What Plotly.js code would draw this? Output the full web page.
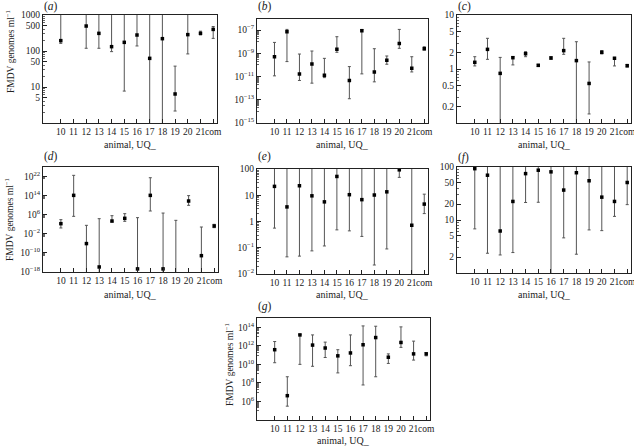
<!DOCTYPE html>
<html><head><meta charset="utf-8">
<script src="https://cdn.plot.ly/plotly-3.0.1.min.js"></script>
<style>html,body{margin:0;padding:0;background:#fff}#chart{width:634px;height:446px}</style>
</head><body><div id="chart"></div>
<script>
const cats = ['10','11','12','13','14','15','16','17','18','19','20','21','com'];

// (a)
const aMid = [194, null, 494, 309, 132, 174, 278, 62.5, 220, 6.4, 285, 309, 398];
const aHi  = [1e4, null, 1e4, 1e4, 1e4, 1e4, 1e4, 1e4, 1e4, 38, 1e4, 355, 479];
const aLo  = [163, null, 119, 119, 96, 7.7, 138, 0, 0, 2.15, 83, 282, 224];
const aTickVals = [5, 10, 50, 100, 500, 1000];
const aTickText = ['5', '10', '50', '100', '500', '1000'];

// (b)
const bMid = [5.1e-10, 7.2e-8, 1.7e-11, 1.23e-10, 1.29e-11, 2.3e-9, 4.6e-12, 8.7e-8, 2.5e-11, 2.5e-10, 7.2e-9, 5.1e-11, 2.5e-9];
const bHi  = [8.7e-9, 1.15e-7, 8.7e-10, 1.58e-9, 3.7e-10, 2.7e-8, 7.2e-11, 1.15e-7, 2.5e-9, 5.9e-10, 1.15e-7, 5.1e-10, 3.7e-9];
const bLo  = [1.15e-11, 1.95e-10, 4.6e-12, 2.7e-12, 8.1e-12, 1.23e-9, 1.23e-13, 1.7e-11, 3.5e-12, 1.15e-10, 2.7e-9, 2.5e-11, 1.95e-9];
const bTickVals = [1e-15, 1e-13, 1e-11, 1e-9, 1e-7];
const bTickText = ['10<sup>\u221215</sup>', '10<sup>\u221213</sup>', '10<sup>\u221211</sup>', '10<sup>\u22129</sup>', '10<sup>\u22127</sup>'];

// (c)
const cMid = [1.33, 2.31, 0.83, 1.62, 1.92, 1.17, 1.6, 2.19, 1.43, 0.54, 2.04, 1.58, 1.15];
const cHi  = [1.69, 3.7, 1.64, 1.69, 2.09, 1.22, 1.69, 3.7, 3.2, 1.35, 2.19, 1.64, 1.22];
const cLo  = [1.14, 1.51, 0, 1.19, 1.69, 1.11, 1.51, 1.87, 0, 0.147, 1.9, 1.14, 1.09];
const cTickVals = [0.2, 0.5, 1, 2, 5, 10];
const cTickText = ['0.2', '0.5', '1', '2', '5', '10'];

// (d)
const dMid = [1.8e2, 1.3e14, 8e-7, 1.3e-16, 2.3e3, 3.1e4, 2e-17, 1.3e14, 2e-17, 1e-20, 5.6e11, 7e-12, 19];
const dHi  = [8.5e3, 3.2e22, 36, 2.2e4, 4e5, 2.8e6, 5.9e4, 3.2e21, 5e6, 4.5e3, 1e14, 7.2, 95];
const dLo  = [2.8, 2.1e5, 0, 0, 9.1e2, 1.7e3, 0, 3.6e7, 0, 0, 8.7e9, 0, 3.8];
const dTickVals = [1e-18, 1e-10, 1e-2, 1e6, 1e14, 1e22];
const dTickText = ['10<sup>\u221218</sup>', '10<sup>\u221210</sup>', '10<sup>\u22122</sup>', '10<sup>6</sup>', '10<sup>14</sup>', '10<sup>22</sup>'];

// (e)
const eMid = [21.8, 3.6, 23, 9.5, 5.6, 52, 10.5, 6.8, 10.2, 13.5, 93, 0.72, 4.6];
const eHi  = [1e3, 1e3, 1e3, 1e3, 1e3, 1e3, 1e3, 1e3, 1e3, 1e3, 1e3, 1e3, 11];
const eLo  = [0.56, 0.045, 0.048, 0.076, 0.117, 0.48, 0.44, 0.27, 0.022, 0.09, 48, 0, 2.0];
const eTickVals = [0.01, 0.1, 1, 10, 100];
const eTickText = ['10<sup>\u22122</sup>', '10<sup>\u22121</sup>', '1', '10', '100'];

// (f)
const fMid = [93, 70, 6.2, 22.4, 75, 87, 81, 36.7, 78, 55, 27, 22.4, 51];
const fHi  = [1e3, 1e3, 1e3, 1e3, 1e3, 1e3, 1e3, 1e3, 1e3, 1e3, 1e3, 1e3, 1e3];
const fLo  = [6.8, 2.36, 2.19, 2.43, 21.4, 21.6, 0, 4.6, 2.26, 6.5, 6.3, 11.7, 19.5];
const fTickVals = [2, 5, 10, 20, 50, 100];
const fTickText = ['2', '5', '10', '20', '50', '100'];

// (g)
const gMid = [3.8e11, 4.2e6, 1.5e13, 1.2e12, 5.8e11, 8.3e10, 1.7e11, 1.3e12, 7.8e12, 5.9e10, 2.3e12, 1.35e11, 1.35e11];
const gHi  = [2.9e12, 4.6e8, 1.7e13, 1.5e13, 2.5e12, 3.8e11, 1.5e13, 1.4e14, 1.3e14, 1.35e11, 1.1e14, 3.2e12, 1.9e11];
const gLo  = [1.5e10, 3.1e5, 1.0e10, 6.2e9, 5.5e10, 1.2e9, 7.2e9, 6.0e7, 4.6e8, 1.26e10, 6.8e11, 2.9e10, 8.3e10];
const gTickVals = [1e6, 1e8, 1e10, 1e12, 1e14];
const gTickText = ['10<sup>6</sup>', '10<sup>8</sup>', '10<sup>10</sup>', '10<sup>12</sup>', '10<sup>14</sup>'];

const panelLetters = ['a','b','c','d','e','f','g'];
const xTitle = 'animal, UQ_';
const yTitle = 'FMDV genomes ml<sup>\u22121</sup>';

const W = 634, H = 446;
const FONT = 'Liberation Serif';
const INK = '#222';
const BAR = '#555';

// layout geometry (pixels): [left, right, top, bottom]
const geo = [
  [43, 217, 15, 123],
  [257, 428, 18.5, 123],
  [457, 631, 15, 123],
  [43, 218, 167, 272],
  [257, 428, 169, 274],
  [457, 631, 167, 273],
  [257, 430, 318, 420]
];
const yRanges = [[0,3],[-15,-6],[-1,1],[-18,26],[-2,2],[0,2],[4,15]];

function minorAll(lo, hi) {
  const out = [];
  for (let j = lo; j <= hi; j++) for (let m = 2; m <= 9; m++) out.push(m * Math.pow(10, j));
  return out;
}
function minorBelow(labels) {
  const out = [];
  labels.forEach(v => { const j = Math.round(Math.log10(v)) - 1; for (let m = 1; m <= 9; m++) out.push(m * Math.pow(10, j)); });
  return out;
}

const series = [
  [aMid, aHi, aLo, aTickVals, aTickText, minorAll(0, 2)],
  [bMid, bHi, bLo, bTickVals, bTickText, minorBelow(bTickVals)],
  [cMid, cHi, cLo, cTickVals, cTickText, minorAll(-1, 0)],
  [dMid, dHi, dLo, dTickVals, dTickText, minorBelow(dTickVals)],
  [eMid, eHi, eLo, eTickVals, eTickText, minorAll(-2, 1)],
  [fMid, fHi, fLo, fTickVals, fTickText, minorAll(0, 1)],
  [gMid, gHi, gLo, gTickVals, gTickText, minorBelow(gTickVals)]
];

const traces = [];
const layout = {
  width: W, height: H,
  margin: {l: 0, r: 0, t: 0, b: 0},
  paper_bgcolor: '#fff', plot_bgcolor: '#fff',
  showlegend: false,
  font: {family: FONT, color: INK},
  annotations: []
};

const letterY = [6.5, 6.5, 6.5, 156.5, 156.5, 157.5, 306];
const xTitleY = [144, 144, 144, 294, 294, 294, 440];

series.forEach((s, i) => {
  const [mid, hi, lo, tv, tt, minor] = s;
  const n = i === 0 ? '' : String(i + 1);
  const g = geo[i];
  const plus = mid.map((m, k) => m === null ? null : hi[k] - m);
  const minus = mid.map((m, k) => m === null ? null : m - lo[k]);
  traces.push({
    type: 'scatter', mode: 'markers',
    x: cats, y: mid,
    xaxis: 'x' + n, yaxis: 'y' + n,
    marker: {symbol: 'square', size: 3.5, color: '#000'},
    error_y: {type: 'data', symmetric: false, array: plus, arrayminus: minus,
              color: BAR, thickness: 1, width: 1.5},
    hoverinfo: 'skip'
  });
  layout['xaxis' + n] = {
    domain: [g[0] / W, g[1] / W], anchor: 'y' + n,
    type: 'category', range: [-1.4, 12.3],
    tickmode: 'array', tickvals: cats, ticktext: cats, tickangle: 0,
    ticks: 'inside', ticklen: 4, tickcolor: INK, tickwidth: 1,
    showline: true, linecolor: INK, linewidth: 1, mirror: true,
    showgrid: false, zeroline: false,
    tickfont: {family: FONT, size: 9.5, color: INK}
  };
  layout['yaxis' + n] = {
    domain: [1 - g[3] / H, 1 - g[2] / H], anchor: 'x' + n,
    type: 'log', range: yRanges[i],
    tickmode: 'array', tickvals: tv, ticktext: tt,
    ticks: 'inside', ticklen: 4, tickcolor: INK, tickwidth: 1,
    minor: {tickmode: 'array', tickvals: minor, ticks: 'inside', ticklen: 2, tickcolor: '#666', tickwidth: 1, showgrid: false},
    showline: true, linecolor: INK, linewidth: 1, mirror: true,
    showgrid: false, zeroline: false,
    tickfont: {family: FONT, size: 9.5, color: INK}
  };
  layout.annotations.push({
    xref: 'paper', yref: 'paper', x: (g[0] - 1) / W, y: 1 - letterY[i] / H,
    xanchor: 'left', yanchor: 'middle', showarrow: false,
    text: '(<i>' + panelLetters[i] + '</i>)', font: {family: FONT, size: 11.5, color: INK}
  });
  layout.annotations.push({
    xref: 'paper', yref: 'paper', x: (g[0] + g[1]) / 2 / W, y: 1 - xTitleY[i] / H,
    xanchor: 'center', yanchor: 'middle', showarrow: false,
    text: xTitle, font: {family: FONT, size: 10, color: INK}
  });
});

[[10, 52], [9, 220], [229, 364]].forEach(p => {
  layout.annotations.push({
    xref: 'paper', yref: 'paper', x: p[0] / W, y: 1 - p[1] / H,
    xanchor: 'center', yanchor: 'middle', showarrow: false, textangle: -90,
    text: yTitle, font: {family: FONT, size: 9.5, color: INK}
  });
});

Plotly.newPlot('chart', traces, layout, {staticPlot: true});
</script>
</body></html>
